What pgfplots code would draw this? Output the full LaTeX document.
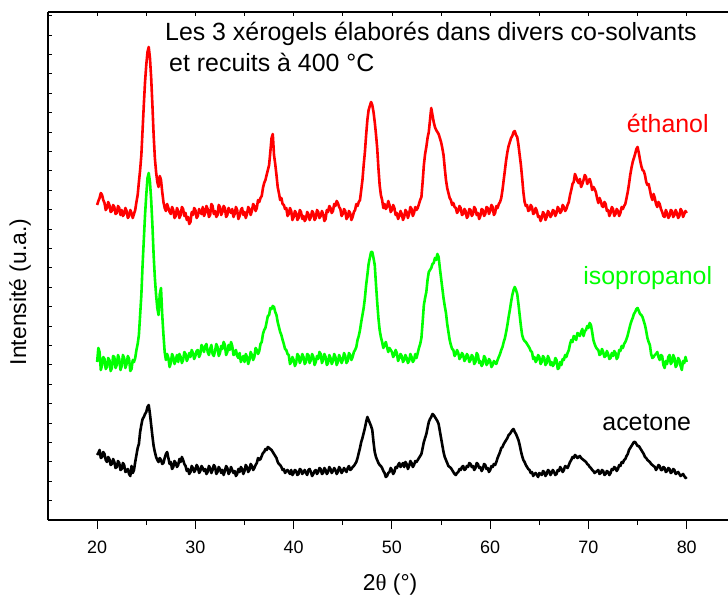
\documentclass[border=0pt]{standalone}
\usepackage{fontspec}
\setmainfont{Liberation Sans}
\newfontfamily\grk{Liberation Serif}
\usepackage{pgfplots}
\usepackage{pgfplotstable}
\pgfplotsset{compat=1.18}
\pgfplotstableread{
x eth iso ace
20.000 315 158 65
20.125 319 172 67
20.250 322 168 70
20.375 327 150 62
20.500 325 155 63
20.625 320 163 68
20.750 317 161 66
20.875 310 151 60
21.000 312 153 58
21.125 318 162 63
21.250 315 160 61
21.375 308 149 55
21.500 309 152 56
21.625 315 164 61
21.750 313 163 58
21.875 306 152 52
22.000 307 155 53
22.125 314 165 59
22.250 312 161 57
22.375 305 150 50
22.500 310 154 51
22.625 304 165 57
22.750 306 162 55
22.875 312 152 48
23.000 309 156 49
23.125 302 164 51
23.250 304 161 46
23.375 310 149 44
23.500 307 151 54
23.625 302 160 47
23.750 306 158 50
23.875 310 162 58
24.000 318 170 65
24.125 325 176 72
24.250 338 185 76
24.375 350 205 88
24.500 365 225 95
24.625 390 255 101
24.750 415 280 103
24.875 438 305 106
25.000 455 325 108
25.125 468 342 113
25.250 473 347 115
25.375 462 338 106
25.500 442 320 95
25.625 415 295 84
25.750 385 265 74
25.875 362 242 68
26.000 348 225 63
26.125 338 212 60
26.250 333 205 58
26.375 344 226 62
26.500 340 232 60
26.625 328 205 56
26.750 318 185 57
26.875 312 168 62
27.000 309 160 66
27.125 316 166 68
27.250 312 162 62
27.375 308 153 56
27.500 306 157 58
27.625 313 166 51
27.750 310 163 53
27.875 302 156 59
28.000 304 160 57
28.125 312 165 53
28.250 309 158 55
28.375 302 166 61
28.500 305 163 58
28.625 313 157 63
28.750 311 160 60
28.875 304 168 56
29.000 307 166 54
29.125 300 159 49
29.250 303 162 51
29.375 296 167 46
29.500 298 163 48
29.625 308 170 54
29.750 305 167 52
29.875 312 161 48
30.000 310 164 50
30.125 302 169 55
30.250 304 170 53
30.375 311 163 47
30.500 308 166 49
30.625 306 175 54
30.750 313 172 52
30.875 304 168 49
31.000 307 174 51
31.125 314 176 46
31.250 311 168 48
31.375 303 165 54
31.500 305 171 52
31.625 316 175 47
31.750 314 166 50
31.875 306 164 55
32.000 309 169 53
32.125 303 176 46
32.250 305 173 48
32.375 315 164 53
32.500 313 167 51
32.625 305 174 47
32.750 308 171 50
32.875 314 178 45
33.000 312 175 49
33.125 303 165 54
33.250 305 168 52
33.375 312 175 46
33.500 309 170 48
33.625 307 178 53
33.750 311 174 50
33.875 303 165 47
34.000 306 166 49
34.125 313 170 44
34.250 310 164 46
34.375 301 162 51
34.500 304 167 48
34.625 310 158 53
34.750 312 161 51
34.875 305 164 46
35.000 308 158 49
35.125 302 166 55
35.250 306 163 53
35.375 313 156 48
35.500 311 160 50
35.625 305 168 56
35.750 309 165 54
35.875 316 160 50
36.000 314 163 52
36.125 309 172 55
36.250 312 170 57
36.375 320 166 62
36.500 318 169 60
36.625 322 176 61
36.750 324 178 64
36.875 332 186 67
37.000 337 190 68
37.125 340 192 71
37.250 345 198 70
37.375 350 204 73
37.500 355 205 72
37.625 368 212 71
37.750 382 211 70
37.875 386 214 68
38.000 365 213 66
38.125 356 208 64
38.250 345 205 62
38.375 333 198 58
38.500 327 193 56
38.625 320 188 55
38.750 322 185 53
38.875 316 180 50
39.000 315 176 51
39.125 311 171 47
39.250 312 170 49
39.375 304 166 50
39.500 306 165 48
39.625 312 156 46
39.750 309 158 50
39.875 300 163 45
40.000 303 160 47
40.125 309 154 50
40.250 307 157 49
40.375 300 166 45
40.500 302 164 46
40.625 310 157 51
40.750 308 160 50
40.875 301 166 46
41.000 304 163 48
41.125 299 156 50
41.250 301 158 47
41.375 308 166 45
41.500 306 165 50
41.625 300 157 51
41.750 303 160 48
41.875 309 166 44
42.000 307 163 46
42.125 300 155 49
42.250 302 158 50
42.375 310 164 46
42.500 308 161 48
42.625 302 168 52
42.750 304 166 51
42.875 309 157 46
43.000 306 160 47
43.125 299 166 52
43.250 301 163 50
43.375 310 155 46
43.500 308 157 48
43.625 314 165 53
43.750 312 162 51
43.875 307 156 47
44.000 309 159 49
44.125 316 166 52
44.250 314 163 50
44.375 319 155 46
44.500 317 158 48
44.625 313 165 53
44.750 311 162 51
44.875 304 157 47
45.000 306 160 49
45.125 311 167 52
45.250 309 164 50
45.375 301 157 48
45.500 303 159 52
45.625 309 167 54
45.750 307 165 50
45.875 300 160 51
46.000 303 163 53
46.125 308 168 54
46.250 310 170 56
46.375 316 173 58
46.500 314 180 62
46.625 318 184 67
46.750 320 190 72
46.875 330 198 78
47.000 340 205 82
47.125 355 212 87
47.250 368 222 92
47.375 385 235 98
47.500 400 245 103
47.625 410 256 100
47.750 414 262 97
47.875 418 268 94
48.000 415 268 90
48.125 408 262 78
48.250 398 255 68
48.375 386 236 63
48.500 372 218 60
48.625 352 202 57
48.750 335 190 55
48.875 325 183 54
49.000 320 178 52
49.125 312 172 49
49.250 316 175 47
49.375 311 178 43
49.500 313 173 44
49.625 319 168 47
49.750 315 172 48
49.875 308 170 52
50.000 310 168 50
50.125 315 163 46
50.250 312 165 48
50.375 305 170 53
50.500 307 167 52
50.625 301 159 55
50.750 304 162 57
50.875 309 166 53
51.000 306 164 55
51.125 300 158 57
51.250 303 160 53
51.375 310 165 58
51.500 308 162 56
51.625 302 157 51
51.750 306 159 54
51.875 313 166 59
52.000 311 163 57
52.125 304 158 53
52.250 307 160 55
52.375 313 166 59
52.500 310 162 58
52.625 312 167 60
52.750 316 172 62
52.875 320 176 64
53.000 323 182 66
53.125 338 198 72
53.250 355 215 78
53.375 366 222 82
53.500 373 228 86
53.625 382 240 92
53.750 388 248 98
53.875 400 250 101
54.000 412 252 103
54.125 405 256 106
54.250 398 257 105
54.375 393 262 103
54.500 390 260 101
54.625 388 266 99
54.750 386 263 96
54.875 382 252 89
55.000 378 242 82
55.125 372 232 75
55.250 365 222 68
55.375 352 214 63
55.500 340 207 60
55.625 332 196 57
55.750 327 188 54
55.875 322 180 53
56.000 320 175 52
56.125 315 171 50
56.250 317 170 48
56.375 313 164 46
56.500 312 166 45
56.625 307 170 47
56.750 309 167 48
56.875 314 161 51
57.000 312 163 50
57.125 305 167 53
57.250 306 165 54
57.375 311 159 50
57.500 309 161 51
57.625 302 166 54
57.750 304 164 53
57.875 311 158 57
58.000 310 160 56
58.125 304 165 53
58.250 306 163 54
58.375 313 156 50
58.500 311 158 52
58.625 305 167 57
58.750 307 165 56
58.875 301 157 52
59.000 304 159 53
59.125 311 154 49
59.250 310 156 51
59.375 304 164 56
59.500 306 162 55
59.625 313 155 51
59.750 312 157 52
59.875 306 161 48
60.000 309 159 50
60.125 315 153 54
60.250 313 155 53
60.375 305 159 56
60.500 307 157 55
60.625 314 156 58
60.750 312 160 62
60.875 316 163 65
61.000 318 166 68
61.125 322 170 72
61.250 330 173 73
61.375 340 178 76
61.500 350 182 78
61.625 360 188 80
61.750 368 195 82
61.875 374 203 85
62.000 378 210 86
62.125 382 218 88
62.250 384 225 90
62.375 388 230 91
62.500 389 233 88
62.625 385 230 86
62.750 383 226 83
62.875 375 216 80
63.000 365 205 75
63.125 355 194 69
63.250 342 185 64
63.375 328 181 60
63.500 318 179 58
63.625 314 178 55
63.750 315 176 53
63.875 309 174 51
64.000 310 172 50
64.125 315 169 47
64.250 313 168 48
64.375 306 161 44
64.500 307 163 46
64.625 312 158 47
64.750 309 160 45
64.875 303 165 43
65.000 304 163 47
65.125 299 156 46
65.250 302 158 45
65.375 308 164 49
65.500 306 162 48
65.625 300 155 44
65.750 303 157 46
65.875 309 164 50
66.000 307 161 49
66.125 303 155 45
66.250 305 158 47
66.375 310 154 50
66.500 309 156 48
66.625 304 162 45
66.750 307 160 46
66.875 313 151 50
67.000 311 152 49
67.125 307 158 53
67.250 309 155 51
67.375 315 161 48
67.500 313 160 50
67.625 309 165 54
67.750 311 163 53
67.875 315 167 52
68.000 318 170 55
68.125 325 176 58
68.250 330 180 60
68.375 336 178 63
68.500 338 184 62
68.625 346 183 65
68.750 343 180 64
68.875 339 187 62
69.000 337 186 63
69.125 341 184 64
69.250 333 188 62
69.375 336 191 61
69.500 340 184 60
69.625 345 189 59
69.750 343 190 58
69.875 336 194 56
70.000 339 192 55
70.125 341 197 53
70.250 337 195 52
70.375 330 188 50
70.500 333 180 49
70.625 331 176 47
70.750 328 173 48
70.875 322 171 49
71.000 317 170 50
71.125 322 165 46
71.250 319 166 47
71.375 314 171 50
71.500 313 168 49
71.625 318 163 45
71.750 316 164 46
71.875 309 169 49
72.000 310 166 48
72.125 304 161 45
72.250 307 162 47
72.375 313 167 51
72.500 311 164 50
72.625 304 169 53
72.750 306 167 52
72.875 311 161 49
73.000 309 163 51
73.125 304 170 55
73.250 307 169 54
73.375 313 174 58
73.500 311 172 57
73.625 314 176 60
73.750 316 178 61
73.875 322 181 64
74.000 328 185 66
74.125 336 190 70
74.250 345 195 72
74.375 352 199 74
74.500 358 202 76
74.625 362 206 78
74.750 366 208 78
74.875 371 211 76
75.000 373 212 74
75.125 367 209 74
75.250 360 206 72
75.375 354 205 70
75.500 350 203 68
75.625 349 199 66
75.750 345 195 63
75.875 338 189 62
76.000 335 182 60
76.125 336 178 59
76.250 330 175 58
76.375 324 166 56
76.500 320 162 55
76.625 326 163 54
76.750 322 165 53
76.875 316 166 50
77.000 313 168 52
77.125 318 163 55
77.250 316 160 54
77.375 311 165 50
77.500 308 164 50
77.625 304 155 53
77.750 303 152 52
77.875 310 159 48
78.000 307 156 49
78.125 302 163 52
78.250 304 165 51
78.375 310 156 47
78.500 309 158 48
78.625 303 165 51
78.750 305 162 50
78.875 310 153 46
79.000 307 155 47
79.125 302 162 48
79.250 304 160 46
79.375 311 154 44
79.500 309 150 45
79.625 303 159 46
79.750 306 157 44
79.875 309 163 42
80.000 307 158 43
}\xrd
\definecolor{vert}{RGB}{0,255,0}
\begin{document}
\begin{tikzpicture}
\begin{axis}[
  scale only axis, width=680bp, height=508bp,
  xmin=15, xmax=84.2, ymin=0, ymax=508,
  axis x line*=bottom, axis y line*=left,
  axis line style={line width=1.2bp, black},
  xtick={20,30,...,80}, minor x tick num=1,
  xtick align=outside, ytick=\empty,
  major tick length=9bp, minor tick length=5bp,
  tick style={line width=1bp, black},
  /pgf/number format/assume math mode=true,
  tick label style={font=\fontsize{18}{20}\selectfont},
  xticklabel style={yshift=-8bp},
  xlabel={2{\grk θ} (°)},
  ylabel={Intensité (u.a.)},
  label style={font=\fontsize{23}{27}\selectfont},
  x label style={at={(axis description cs:0.503,0)},anchor=center,yshift=-65bp},
  y label style={at={(axis description cs:-0.041,0.449)},anchor=center},
  clip mode=individual,
]
\addplot[black, line width=2.6bp, line join=round] table[x=x,y=ace] {\xrd};
\addplot[vert, line width=2.6bp, line join=round] table[x=x,y=iso] {\xrd};
\addplot[red, line width=2.6bp, line join=round] table[x=x,y=eth] {\xrd};
\node[anchor=base west, inner sep=0, font=\fontsize{25}{30}\selectfont] at (axis description cs:0.172,0.943) {Les 3 xérogels élaborés dans divers co-solvants};
\node[anchor=base west, inner sep=0, font=\fontsize{25}{30}\selectfont] at (axis description cs:0.178,0.882) {et recuits à 400 °C};
\node[anchor=base west, inner sep=0, font=\fontsize{25}{30}\selectfont, text=red] at (axis description cs:0.851,0.762) {éthanol};
\node[anchor=base west, inner sep=0, font=\fontsize{25}{30}\selectfont, text=vert] at (axis description cs:0.787,0.463) {isopropanol};
\node[anchor=base west, inner sep=0, font=\fontsize{25}{30}\selectfont] at (axis description cs:0.815,0.177) {acetone};
\coordinate (bl) at (rel axis cs:0,0);
\coordinate (tr) at (rel axis cs:1,1);
\end{axis}
\begin{axis}[
  scale only axis, width=680bp, height=508bp,
  xmin=15, xmax=84.2, ymin=0, ymax=508,
  axis x line*=top, axis y line*=left,
  axis line style={line width=1.2bp, black},
  xtick={20,25,...,80}, ytick={0,19.4,...,505},
  xticklabels={}, yticklabels={},
  tick align=inside, major tick length=4bp,
  tick style={line width=0.8bp, black},
]
\end{axis}
\pgfresetboundingbox
\path[use as bounding box] ([xshift=-48bp,yshift=-79bp]bl) rectangle ([yshift=12bp]tr);
\end{tikzpicture}
\end{document}
